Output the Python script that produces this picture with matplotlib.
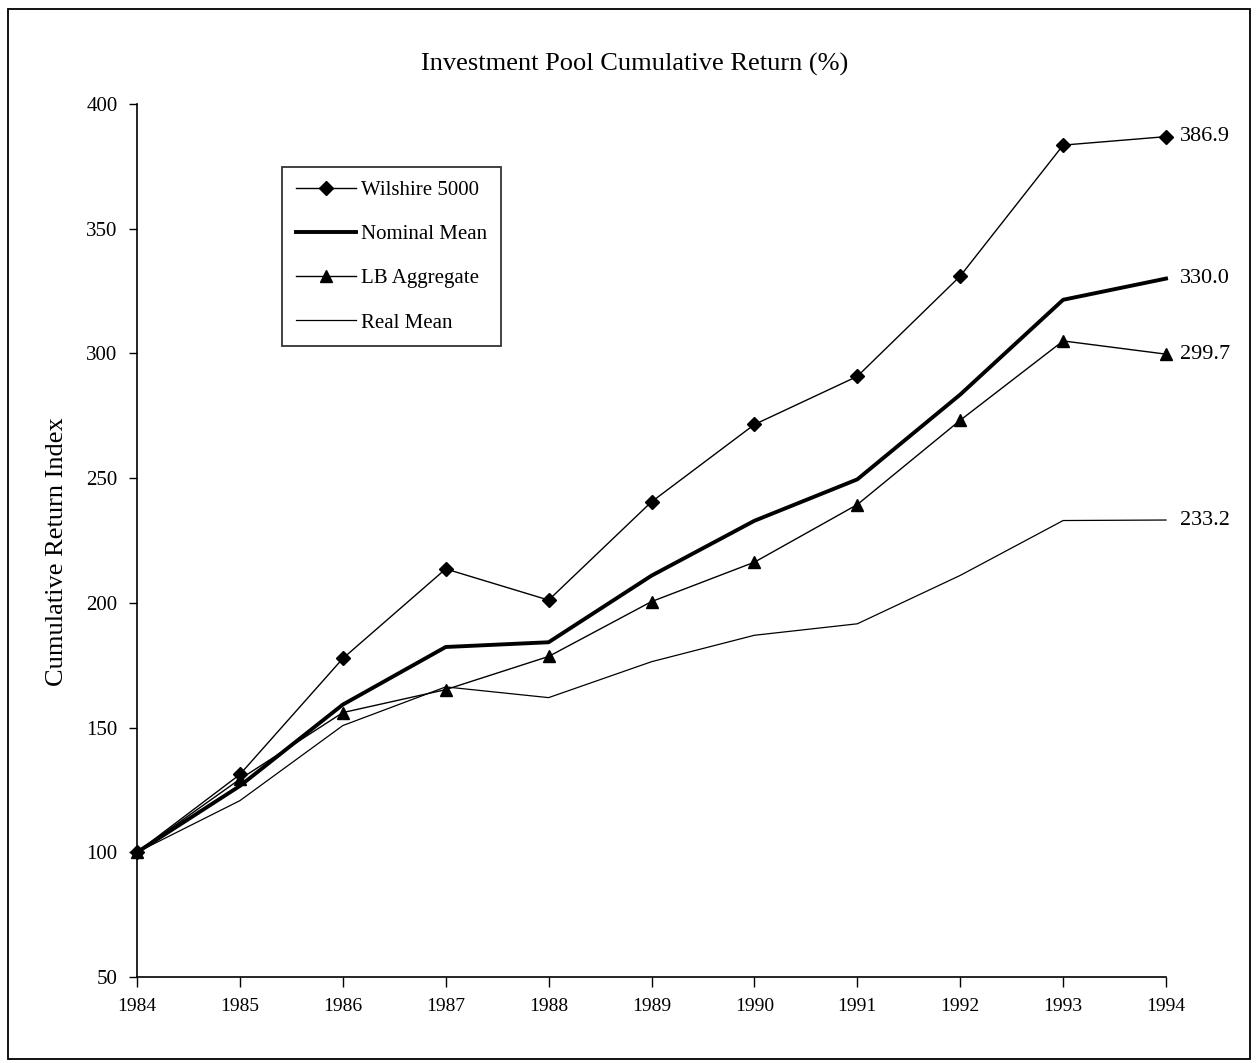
import matplotlib
matplotlib.use("Agg")
import matplotlib.pyplot as plt
from matplotlib.patches import Rectangle

plt.rcParams['font.family'] = ['Liberation Serif', 'DejaVu Serif']

years = [1984, 1985, 1986, 1987, 1988, 1989, 1990, 1991, 1992, 1993, 1994]
wilshire = [100, 131.2, 177.7, 213.6, 201.1, 240.5, 271.5, 290.8, 331.0, 383.5, 386.9]
nominal = [100, 126.6, 159.2, 182.3, 184.2, 210.9, 232.9, 249.5, 283.5, 321.5, 330.0]
lb_aggregate = [100, 129.3, 156.0, 165.2, 178.5, 200.5, 216.3, 239.4, 273.2, 305.0, 299.7]
real_mean = [100, 120.7, 150.8, 166.3, 162.0, 176.4, 187.0, 191.6, 211.0, 233.0, 233.2]

y_ticks = [50, 100, 150, 200, 250, 300, 350, 400]

fig = plt.figure(figsize=(12.58, 10.63), dpi=100)
ax = fig.add_axes([0.1089, 0.0809, 0.8180, 0.8213])

ax.plot(years, wilshire, color='black', lw=1.0, marker='D', ms=7,
        label='Wilshire 5000', clip_on=False)
ax.plot(years, nominal, color='black', lw=2.8, label='Nominal Mean', clip_on=False)
ax.plot(years, lb_aggregate, color='black', lw=1.0, marker='^', ms=9,
        label='LB Aggregate', clip_on=False)
ax.plot(years, real_mean, color='black', lw=0.9, label='Real Mean', clip_on=False)

# value labels at the end of each series
for series in (wilshire, nominal, lb_aggregate, real_mean):
    ax.annotate(f"{series[-1]:.1f}", xy=(years[-1], series[-1]),
                xytext=(10, 0), textcoords='offset points',
                ha='left', va='center', fontsize=16, annotation_clip=False)

ax.set_xlim(years[0], years[-1])
ax.set_ylim(y_ticks[0], y_ticks[-1])
ax.set_xticks(years)
ax.set_yticks(y_ticks)
ax.tick_params(axis='x', direction='out', length=7, width=1, labelsize=14, pad=8)
ax.tick_params(axis='y', direction='out', length=6, width=1, labelsize=15, pad=8)
for side in ('top', 'right'):
    ax.spines[side].set_visible(False)
for side in ('left', 'bottom'):
    ax.spines[side].set_linewidth(1.2)

fig.text(0.5045, 0.9389, 'Investment Pool Cumulative Return (%)',
         ha='center', va='center', fontsize=19)
fig.text(0.0453, 0.481, 'Cumulative Return Index', rotation=90,
         ha='center', va='center', fontsize=19)

leg = ax.legend(loc='upper left', bbox_to_anchor=(0.2242, 0.8429),
                bbox_transform=fig.transFigure, fontsize=15,
                frameon=True, fancybox=False, edgecolor='black',
                handlelength=2.9, handletextpad=0.25, labelspacing=1.18,
                borderpad=0.65, borderaxespad=0)
leg.get_frame().set_linewidth(1.3)

# outer border of the figure
fig.patches.append(Rectangle((0.006, 0.004), 0.988, 0.988, transform=fig.transFigure,
                             fill=False, edgecolor='black', lw=1.3))

fig.savefig('out.png', dpi=100)
